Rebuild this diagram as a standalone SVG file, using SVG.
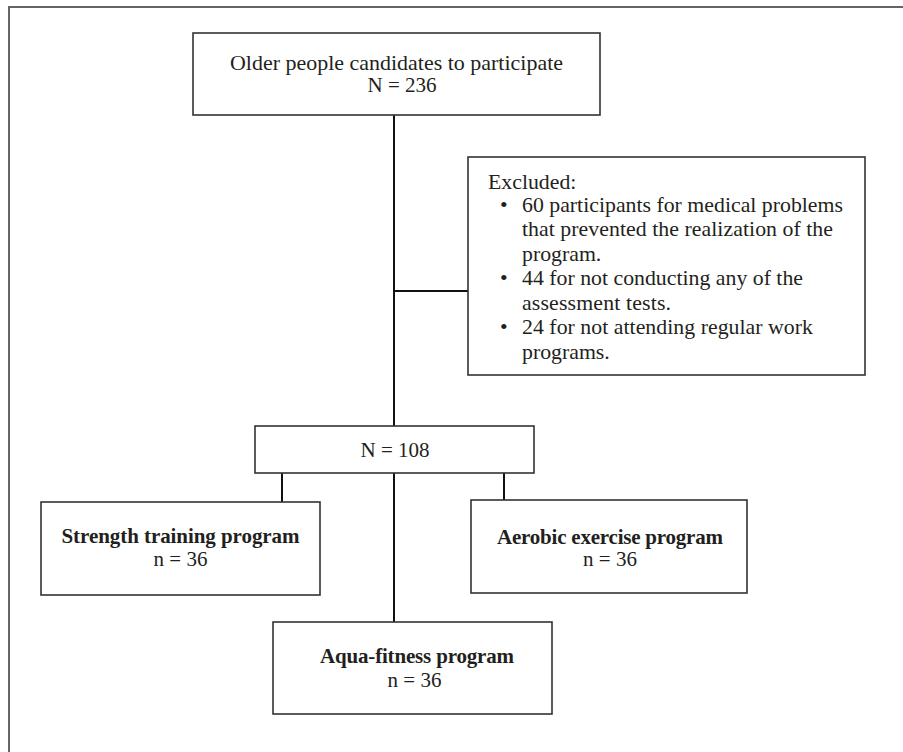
<svg xmlns="http://www.w3.org/2000/svg" width="903" height="752" viewBox="0 0 903 752">
<style>
.box{fill:#fff;stroke:#333;stroke-width:1.6}
.frame{fill:#fff;stroke:#555;stroke-width:1.8}
.t{font-family:"Liberation Serif","DejaVu Serif",serif;font-size:21px;fill:#231f20}
.e{font-size:21.8px}
.c{text-anchor:middle}
.b{font-weight:bold}
.con line{stroke:#111;stroke-width:2}
</style>
<rect class="frame" x="9" y="7" width="904" height="760"/>
<g id="connectors" class="con">
<line x1="394" y1="115" x2="394" y2="426"/>
<line x1="394" y1="291" x2="468" y2="291"/>
<line x1="282" y1="473" x2="282" y2="502"/>
<line x1="394" y1="473" x2="394" y2="622"/>
<line x1="504" y1="473" x2="504" y2="500"/>
</g>
<g id="candidates">
<rect class="box" x="193" y="33" width="407" height="82"/>
<text class="t c" x="396.5" y="70" textLength="333" lengthAdjust="spacingAndGlyphs">Older people candidates to participate</text>
<text class="t c" x="402" y="92">N = 236</text>
</g>
<g id="excluded">
<rect class="box" x="468" y="157" width="397" height="218"/>
<text class="t e" x="488" y="189">Excluded:</text>
<text class="t e" x="500" y="212">•</text>
<text class="t e" x="522" y="212" textLength="321">60 participants for medical problems</text>
<text class="t e" x="522" y="236" textLength="311">that prevented the realization of the</text>
<text class="t e" x="522" y="260.5">program.</text>
<text class="t e" x="500" y="285">•</text>
<text class="t e" x="522" y="285" textLength="281">44 for not conducting any of the</text>
<text class="t e" x="522" y="309.5" textLength="149">assessment tests.</text>
<text class="t e" x="500" y="334">•</text>
<text class="t e" x="522" y="334" textLength="291">24 for not attending regular work</text>
<text class="t e" x="522" y="358.5">programs.</text>
</g>
<g id="n108">
<rect class="box" x="255" y="426" width="279" height="47"/>
<text class="t c" x="395" y="457">N = 108</text>
</g>
<g id="strength">
<rect class="box" x="41" y="502" width="279" height="93"/>
<text class="t c b" x="180.5" y="543" textLength="238">Strength training program</text>
<text class="t c" x="180.5" y="566">n = 36</text>
</g>
<g id="aerobic">
<rect class="box" x="471" y="500" width="276" height="93"/>
<text class="t c b" x="610" y="544" textLength="226">Aerobic exercise program</text>
<text class="t c" x="610" y="566">n = 36</text>
</g>
<g id="aqua">
<rect class="box" x="273" y="622" width="279" height="92"/>
<text class="t c b" x="417" y="663" textLength="194">Aqua-fitness program</text>
<text class="t c" x="414.5" y="687">n = 36</text>
</g>
</svg>
